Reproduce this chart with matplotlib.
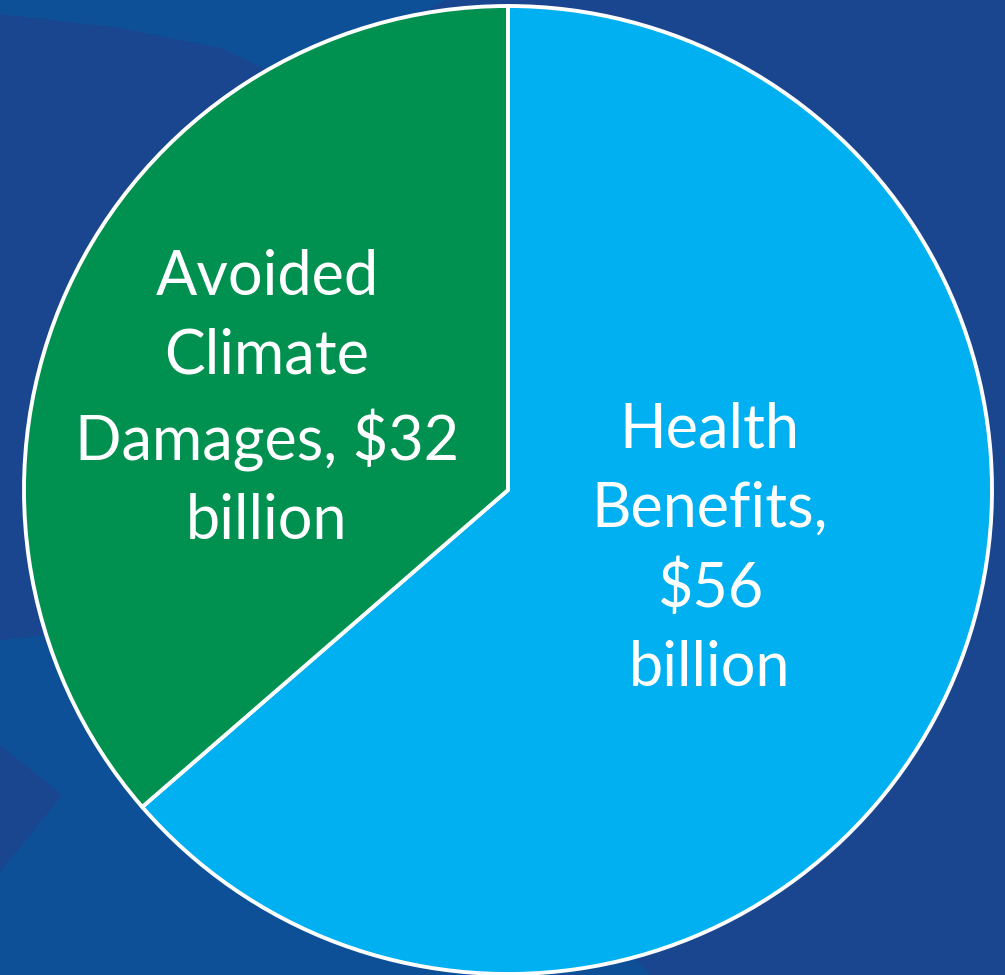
import matplotlib
matplotlib.use("Agg")
import matplotlib.pyplot as plt
from matplotlib.patches import Polygon

# data
labels = ["Health\nBenefits,\n$56\nbillion", "Avoided\nClimate\nDamages, $32\nbillion"]
values = [56, 32]
colors = ["#00B0F0", "#00904F"]

BG = "#1A4690"
BG_LIGHT = "#0E5098"

W, H = 1005, 975
fig = plt.figure(figsize=(W / 100, H / 100), dpi=100, facecolor=BG)

# soft background shapes (pixel coords, y down)
bg = fig.add_axes([0, 0, 1, 1])
bg.set_xlim(0, W); bg.set_ylim(H, 0); bg.axis("off")
bg.add_patch(Polygon([(0, 0), (0, 14), (120, 28), (220, 48), (300, 85), (445, 0)],
                     closed=True, fc=BG_LIGHT, ec="none"))
bg.add_patch(Polygon([(0, 975), (0, 640), (120, 628), (400, 700), (650, 975)],
                     closed=True, fc=BG_LIGHT, ec="none"))
bg.add_patch(Polygon([(0, 745), (62, 795), (0, 872)], closed=True, fc=BG, ec="none"))

# pie: centre (508, 490) px, radius 484 px
cx, cy, r = 508, 490, 484
ax = fig.add_axes([(cx - r) / W, (H - cy - r) / H, 2 * r / W, 2 * r / H])
ax.pie(values, colors=colors, startangle=90, counterclock=False,
       wedgeprops=dict(edgecolor="white", linewidth=2.8))
ax.set_xlim(-1, 1); ax.set_ylim(-1, 1)
ax.set_aspect("auto")
ax.axis("off")

font = dict(color="white", fontsize=44, family=["Lato", "DejaVu Sans"],
            ha="center", va="center", multialignment="center", linespacing=1.47)
ax.text(0.417, -0.123, labels[0], **font)
ax.text(-0.498, 0.187, labels[1], **font)

fig.savefig("out.png", dpi=100, facecolor=BG)
